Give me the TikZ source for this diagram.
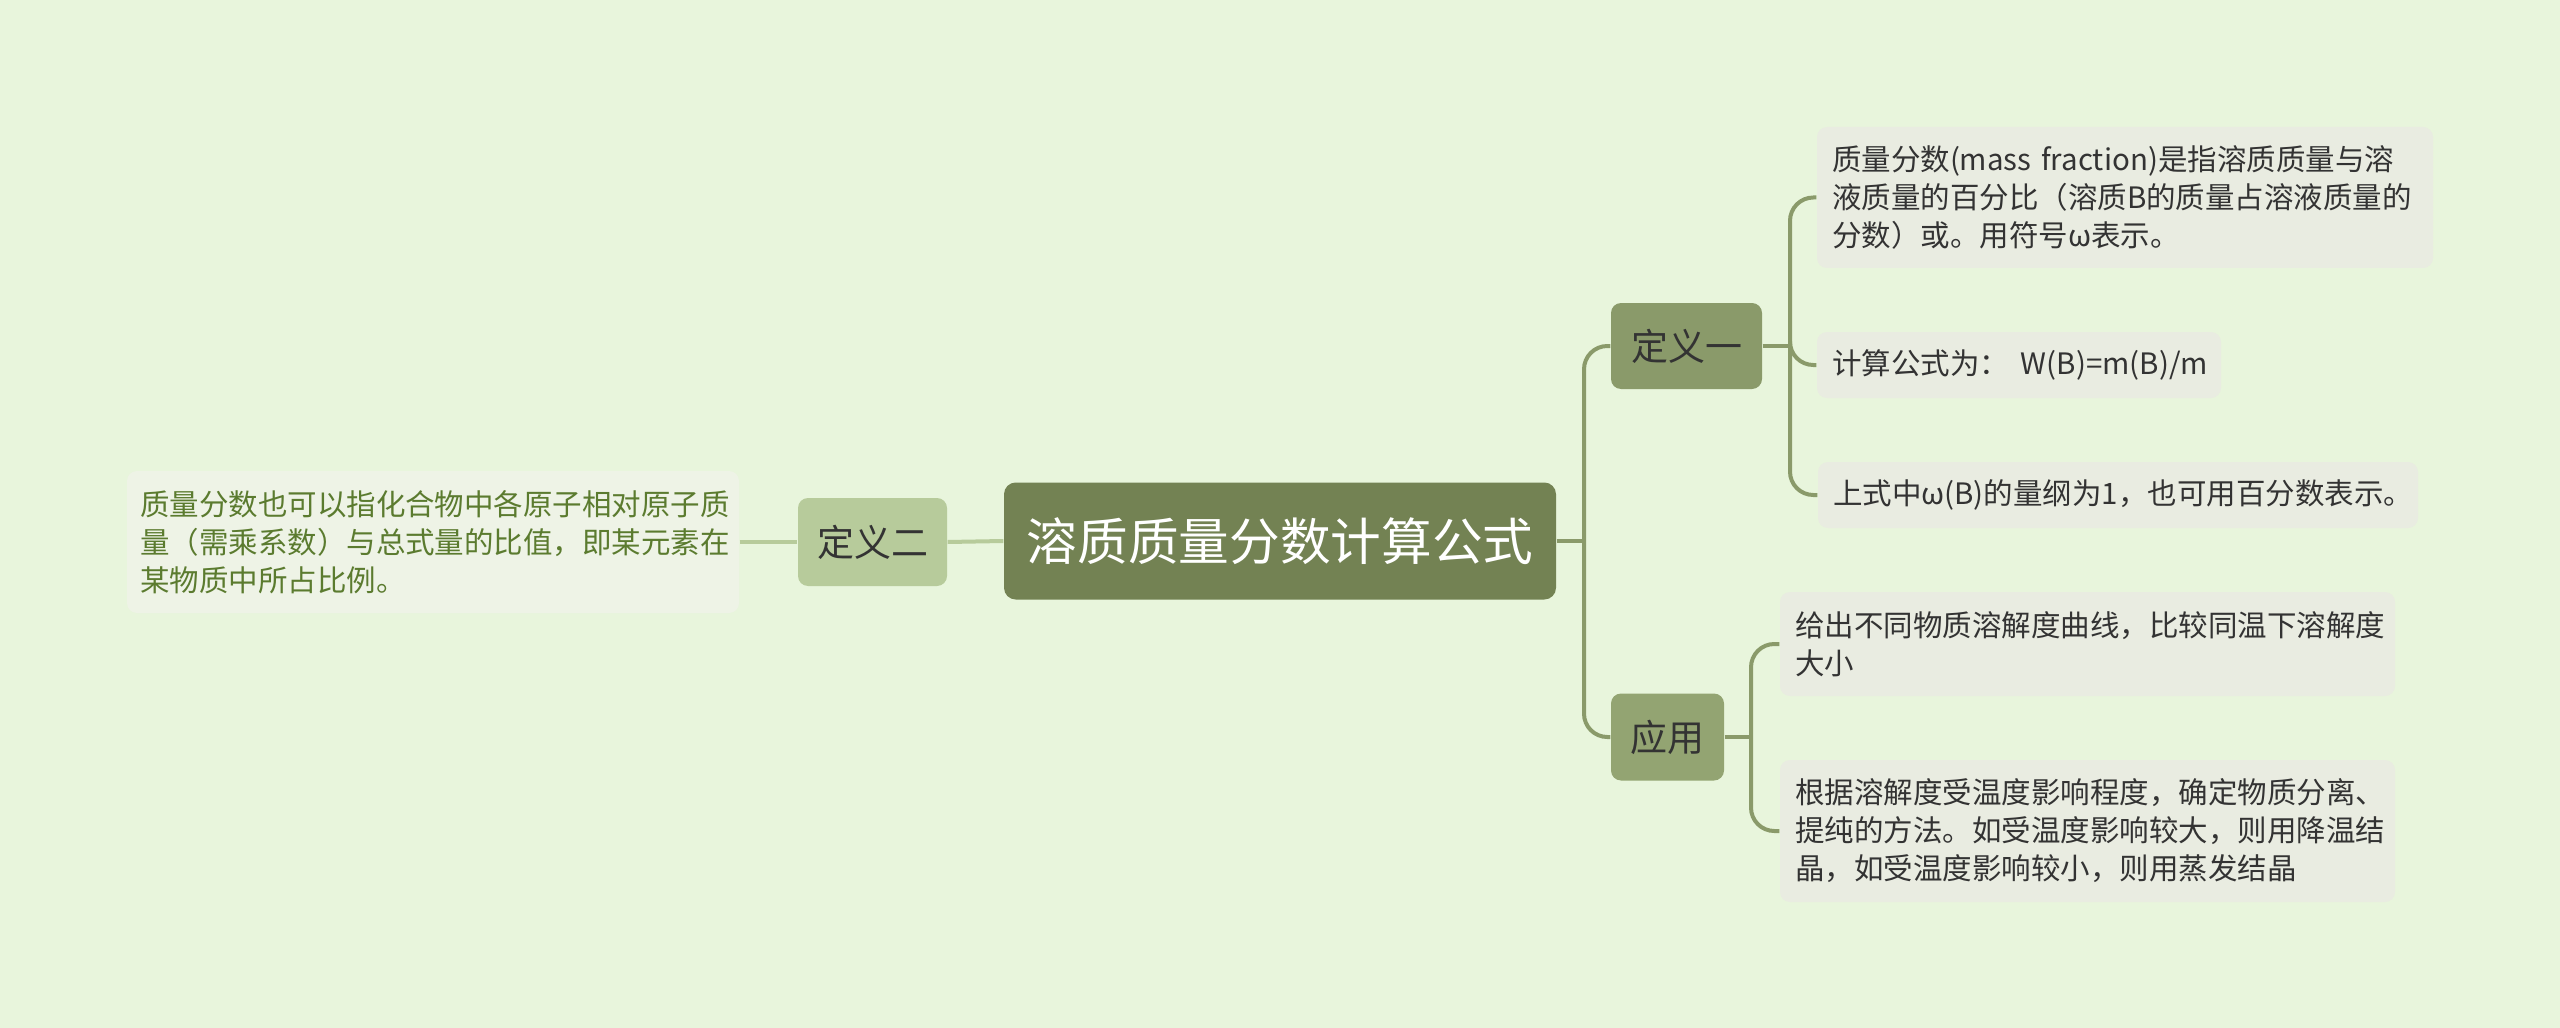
\documentclass[tikz,border=0pt]{standalone}
\usepackage{fontspec}
\setmainfont{Noto Sans CJK SC}
\definecolor{bg}{HTML}{E8F5DC}
\definecolor{rootc}{HTML}{738253}
\definecolor{def1c}{HTML}{8A9A6A}
\definecolor{appc}{HTML}{93A472}
\definecolor{def2c}{HTML}{B7CB9B}
\definecolor{leafRc}{HTML}{E9ECE1}
\definecolor{leafLc}{HTML}{EEF3E6}
\definecolor{lineR}{HTML}{8A9A6A}
\definecolor{lineL}{HTML}{B7CB9B}
\definecolor{txtdark}{HTML}{333333}
\definecolor{txtgreen}{HTML}{5B7B2F}
\newcommand{\leaffont}{\fontsize{8.85}{11.4}\selectfont}
\tikzset{
  rootbox/.style={rectangle, rounded corners=3.5pt, fill=rootc, text=white,
    minimum width=165.6pt, minimum height=35.1pt, inner sep=0pt,
    font=\fontsize{15.2}{17}\selectfont},
  midbox/.style={rectangle, rounded corners=3pt, text=txtdark, inner sep=0pt,
    font=\fontsize{11.1}{13}\selectfont},
  leafbox/.style={rectangle, rounded corners=3pt, fill=leafRc, text=txtdark,
    inner xsep=4.5pt, inner ysep=0pt, align=left, font=\leaffont},
  leafleft/.style={leafbox, fill=leafLc, text=txtgreen, inner xsep=3.9pt},
  connR/.style={draw=lineR, line width=1.2pt, rounded corners=7pt},
  connL/.style={draw=lineL, line width=1.2pt},
}
\begin{document}
\begin{tikzpicture}[x=0.3pt,y=-0.3pt]
\fill[bg] (0,0) rectangle (2560,1028);
\useasboundingbox (0,0) rectangle (2560,1028);

% nodes
\node[rootbox] (root) at (1280,541) {溶质质量分数计算公式};
\node[midbox, fill=def2c, minimum width=44.7pt, minimum height=26.4pt] (def2) at (872.5,542) {定义二};
\node[midbox, fill=def1c, minimum width=45.3pt, minimum height=25.8pt] (def1) at (1686.5,346) {定义一};
\node[midbox, fill=appc, minimum width=33.9pt, minimum height=26.1pt] (app) at (1667.5,737) {应用};

\node[leafleft, text width=175.8pt, minimum height=42.6pt] (L0) at (433,542)
  {质量分数也可以指化合物中各原子相对原子质\\量（需乘系数）与总式量的比值，即某元素在\\某物质中所占比例。};

\node[leafbox, text width=175.8pt, minimum height=42.3pt] (L1) at (2125,197.5)
  {质量分数(mass fraction)是指溶质质量与溶\\液质量的百分比（溶质B的质量占溶液质量的\\分数）或。用符号ω表示。};
\node[leafbox, text width=112.2pt, minimum height=19.8pt] (L2) at (2019,365)
  {\mbox{计算公式为：\kern0.4em W(B)=m(B)/m}};
\node[leafbox, text width=171pt, minimum height=19.8pt] (L3) at (2118,495)
  {上式中ω(B)的量纲为1，也可用百分数表示。};
\node[leafbox, text width=175.5pt, minimum height=31.2pt] (L4) at (2087.5,644)
  {给出不同物质溶解度曲线，比较同温下溶解度\\大小};
\node[leafbox, text width=175.5pt, minimum height=42.6pt] (L5) at (2087.5,831)
  {根据溶解度受温度影响程度，确定物质分离、\\提纯的方法。如受温度影响较大，则用降温结\\晶，如受温度影响较小，则用蒸发结晶};

% junction coordinates
\coordinate (tR) at (1584,541);
\coordinate (b1) at (1790,346);
\coordinate (b2) at (1751,737);

% connectors right
\draw[connR] (root.east) -- (tR);
\draw[connR] (def1.west) -| (tR) |- (app.west);
\draw[connR] (def1.east) -- (b1);
\draw[connR] (L1.west) -| (b1) |- (L3.west);
\draw[connR] (b1) |- (L2.west);
\draw[connR] (app.east) -- (b2);
\draw[connR] (L4.west) -| (b2) |- (L5.west);

% connectors left
\draw[connL] (L0.east) -- (def2.west);
\draw[connL] (def2.east) -- (root.west);
\end{tikzpicture}
\end{document}
